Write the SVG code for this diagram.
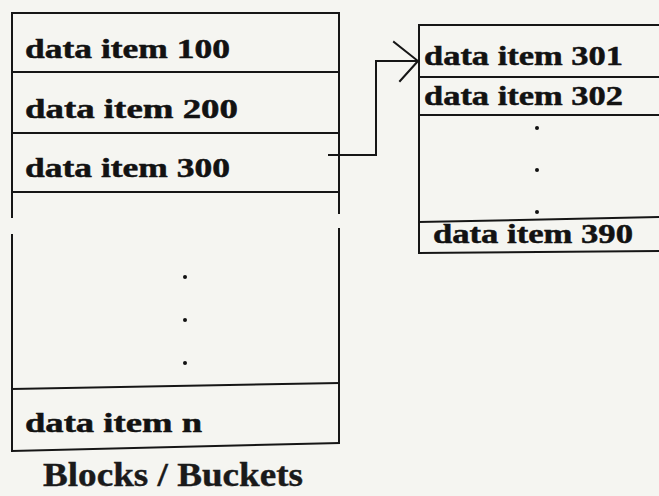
<svg xmlns="http://www.w3.org/2000/svg" width="659" height="496" viewBox="0 0 659 496">
  <style>
    .ln { fill: none; stroke: #161616; stroke-width: 2; stroke-linecap: square; }
    .lbl { font-family: 'Liberation Serif', 'Times New Roman', Times, serif; font-weight: 700; font-size: 28px; fill: #121212; stroke: #121212; stroke-width: 0.5; }
    .cap { font-family: 'Liberation Serif', 'Times New Roman', Times, serif; font-weight: 700; font-size: 33px; fill: #1a1a1a; stroke: #1a1a1a; stroke-width: 0.4; }
    .dot { fill: #111; }
  </style>
  <rect width="659" height="496" fill="#f5f5f1"/>

  <!-- main bucket: block of records -->
  <g id="bucket-main">
    <path class="ln" d="M12 13 H339"/>
    <path class="ln" d="M12 13 V217 M12 235 V451"/>
    <path class="ln" d="M339 13 V213 M339 229 V443"/>
    <path class="ln" d="M12 72 H339 M12 133 H339 M12 192 H339"/>
    <path class="ln" d="M12 389 L339 383"/>
    <path class="ln" d="M12 451 L339 443"/>
    <text class="lbl" x="25" y="58" textLength="205" lengthAdjust="spacingAndGlyphs">data item 100</text>
    <text class="lbl" x="25" y="118" textLength="213" lengthAdjust="spacingAndGlyphs">data item 200</text>
    <text class="lbl" x="25" y="177" textLength="205" lengthAdjust="spacingAndGlyphs">data item 300</text>
    <circle class="dot" cx="185" cy="277" r="2"/>
    <circle class="dot" cx="185" cy="320" r="2"/>
    <circle class="dot" cx="185" cy="363" r="2"/>
    <text class="lbl" x="25" y="432" textLength="177" lengthAdjust="spacingAndGlyphs">data item n</text>
  </g>

  <!-- overflow bucket -->
  <g id="bucket-overflow">
    <path class="ln" d="M419 25 H665"/>
    <path class="ln" d="M419 25 V253"/>
    <path class="ln" d="M419 77 H665 M419 115 H665"/>
    <path class="ln" d="M419 222 L665 217"/>
    <path class="ln" d="M419 253 L665 251"/>
    <text class="lbl" x="424" y="65" textLength="199" lengthAdjust="spacingAndGlyphs">data item 301</text>
    <text class="lbl" x="424" y="105" textLength="199" lengthAdjust="spacingAndGlyphs">data item 302</text>
    <circle class="dot" cx="537" cy="128" r="2"/>
    <circle class="dot" cx="537" cy="170" r="2"/>
    <circle class="dot" cx="537" cy="212" r="2"/>
    <text class="lbl" x="433" y="243" textLength="200" lengthAdjust="spacingAndGlyphs">data item 390</text>
  </g>

  <!-- caption -->
  <g id="caption">
    <text class="cap" x="43" y="486" textLength="260" lengthAdjust="spacingAndGlyphs">Blocks / Buckets</text>
  </g>

  <!-- link from record 300 to the overflow bucket -->
  <g id="connectors">
    <path class="ln" d="M329 155 H376 V61 H417"/>
    <path class="ln" d="M394 42 L418 61 L400 81"/>
  </g>
</svg>
